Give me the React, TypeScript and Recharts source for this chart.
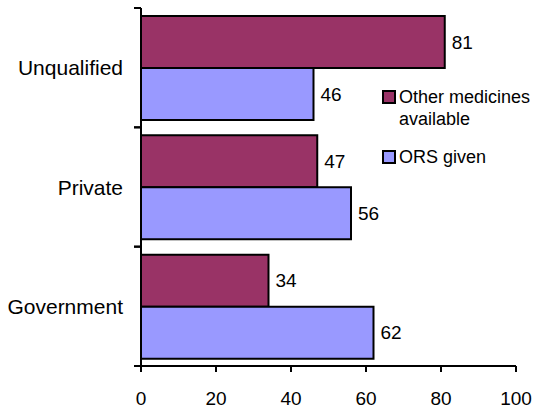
import React from 'react';
import { BarChart, Bar, XAxis, YAxis, Legend, LabelList } from 'recharts';

const categories = ['Unqualified', 'Private', 'Government'];
const otherMedicines = [81, 47, 34];
const orsGiven = [46, 56, 62];
const xTicks = [0, 20, 40, 60, 80, 100];

const seriesNames = ['Other medicines available', 'ORS given'];
const colors = ['#993366', '#9999FF'];

const data = categories.map((name, i) => ({
  name,
  other: otherMedicines[i],
  ors: orsGiven[i]
}));

const W = 535;
const H = 410;
const TOP = 8;
const X_AXIS_H = 44;
const bandSize = (H - TOP - X_AXIS_H) / categories.length;

const font = '"Liberation Sans", Arial, sans-serif';

const CategoryTick = (props: { x: number; y: number; payload: { value: string } }) => {
  const { x, y, payload } = props;
  return (
    <g>
      <line x1={x - 7} x2={x} y1={y - bandSize / 2} y2={y - bandSize / 2} stroke="#000" strokeWidth={2} />
      <line x1={x - 7} x2={x} y1={y + bandSize / 2} y2={y + bandSize / 2} stroke="#000" strokeWidth={2} />
      <text x={x - 18} y={y} textAnchor="end" dominantBaseline="central" fill="#000" fontSize={21} fontFamily={font}>
        {payload.value}
      </text>
    </g>
  );
};

const LegendBox = () => (
  <div style={{ fontFamily: font, fontSize: 18, color: '#000', lineHeight: '22px' }}>
    <div style={{ display: 'flex', alignItems: 'flex-start' }}>
      <span style={{ width: 10, height: 10, marginTop: 4, border: '2px solid #000', background: colors[0], flex: 'none' }} />
      <span style={{ marginLeft: 3, width: 140 }}>Other medicines<br />available</span>
    </div>
    <div style={{ display: 'flex', alignItems: 'flex-start', marginTop: 16 }}>
      <span style={{ width: 10, height: 10, marginTop: 4, border: '2px solid #000', background: colors[1], flex: 'none' }} />
      <span style={{ marginLeft: 3 }}>{seriesNames[1]}</span>
    </div>
  </div>
);

export default function App() {
  return (
    <div style={{ position: 'absolute', left: 0, top: 0, width: W, height: H, background: '#fff' }}>
      <BarChart
        width={W}
        height={H}
        data={data}
        layout="vertical"
        margin={{ top: TOP, right: 19, bottom: 0, left: 0 }}
        barCategoryGap={8}
        barGap={0}
      >
        <XAxis
          type="number"
          domain={[0, 100]}
          ticks={xTicks}
          height={X_AXIS_H}
          axisLine={{ stroke: '#000', strokeWidth: 2 }}
          tickLine={{ stroke: '#000', strokeWidth: 2 }}
          tickSize={6}
          tickMargin={20}
          tick={{ fill: '#000', fontSize: 19, fontFamily: font }}
        />
        <YAxis
          type="category"
          dataKey="name"
          width={141}
          axisLine={{ stroke: '#000', strokeWidth: 2 }}
          tickLine={false}
          tickSize={0}
          tickMargin={0}
          tick={CategoryTick as any}
        />
        <Legend
          layout="vertical"
          align="center"
          verticalAlign="middle"
          content={<LegendBox />}
          wrapperStyle={{ left: 382, top: 86, width: 150 }}
        />
        <Bar dataKey="other" name={seriesNames[0]} fill={colors[0]} stroke="#000" strokeWidth={2} isAnimationActive={false}>
          <LabelList dataKey="other" position="right" offset={7} fill="#000" fontSize={19} fontFamily={font} />
        </Bar>
        <Bar dataKey="ors" name={seriesNames[1]} fill={colors[1]} stroke="#000" strokeWidth={2} isAnimationActive={false}>
          <LabelList dataKey="ors" position="right" offset={7} fill="#000" fontSize={19} fontFamily={font} />
        </Bar>
      </BarChart>
    </div>
  );
}
